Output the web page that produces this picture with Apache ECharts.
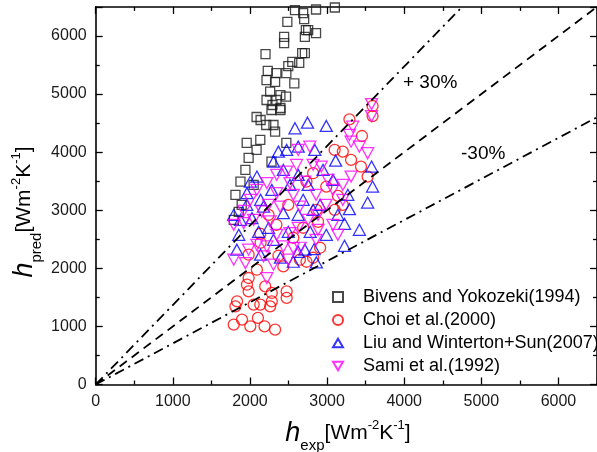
<!DOCTYPE html>
<html>
<head>
<meta charset="utf-8">
<script src="https://cdn.jsdelivr.net/npm/echarts@6/dist/echarts.min.js"></script>
<style>
  html, body { margin: 0; padding: 0; background: #ffffff; }
  #chart { width: 597px; height: 452px; }
</style>
</head>
<body>
<div id="chart"></div>
<script>
// Axis range shared by both axes (W m-2 K-1)
const axisMin = 0;
const axisMax = 6500;
const axisStep = 1000;

// Series names shown in the legend
const seriesNames = [
  'Bivens and Yokozeki(1994)',
  'Choi et al.(2000)',
  'Liu and Winterton+Sun(2007)',
  'Sami et al.(1992)'
];

// [h_exp, h_pred] pairs for each correlation
const bivens = [
  [2584,6443],[2690,6392],[2485,6242],[2703,6289],[2725,6100],[2712,5985],[2443,5985],[2443,5876],
  [2677,5704],[2202,5687],[2549,5555],[2639,5538],[2497,5481],[2231,5400],[2343,5361],[2472,5361],
  [2215,5241],[2326,5211],[2575,5184],[2262,5040],[2395,4983],[2468,4954],[2215,4897],[2343,4897],
  [2292,4811],[2395,4760],[2857,6455],[3101,6490],[2755,6100],[2857,6048],[2086,4605],[2138,4553],
  [2211,4467],[2305,4467],[2326,4352],[2134,4210],[1958,4158],[2086,4038],[1983,3900],[2472,4158],
  [2279,3837],[1941,3694],[1877,3493],[1812,3265],[1791,2835],[2279,4725],[2395,4725],[2048,3436],
  [1893,3093],[1855,2973],[2712,5704]
];
const choi = [
  [2134,2595],[1983,1833],[1961,1718],[1983,1603],[2198,1689],[2283,1576],[2476,1603],[2476,1490],
  [1833,1431],[1812,1345],[2048,1375],[2134,1375],[2283,1431],[2262,1345],[1897,1117],[1790,1031],
  [2005,1002],[2103,1146],[2189,1002],[2326,945],[2090,1976],[2433,2033],[2648,2148],[3290,4565],
  [3452,4278],[3590,4794],[3590,4620],[3098,4038],[3204,4009],[3311,3866],[3440,3751],[3526,3579],
  [2990,3407],[3098,3007],[2819,3637],[2861,3007],[2733,3493],[2138,2440],[2343,2749],[2562,2526],
  [2690,2698],[2883,2801],[3140,3247],[2497,3093],[1983,2234],[2369,2216],[2910,2354],[2819,2182],
  [3204,3093],[2241,2921],[2733,2113]
];
const liu = [
  [2746,4507],[2990,4450],[2841,4038],[3111,3854],[3577,3751],[3590,3407],[3526,3132],[3290,3019],
  [3226,2766],[3419,2663],[2990,2577],[3226,2388],[2832,2332],[2712,2320],[2861,2101],[2584,4411],
  [2476,4038],[2626,4095],[2369,4009],[2305,3837],[2090,3579],[2005,3493],[1961,3294],[1877,2835],
  [2026,2864],[2176,3064],[2433,2950],[2283,3350],[2519,3436],[1855,2577],[1830,2320],[2112,2629],
  [2305,2491],[2497,2629],[2626,2285],[2781,2629],[2138,2234],[2395,2182],[2562,2113],[2690,3179],
  [2910,3093],[3076,3522],[2755,3436],[2948,3694],[2626,3608],[2433,3694],[2138,3179],[1958,3093],
  [2241,2698],[3140,2921],[3269,3265],[2626,2921],[2819,3007],[1790,2921]
];
const sami = [
  [3577,4828],[3577,4622],[3333,4438],[3290,4296],[3311,4180],[3419,4094],[3526,3981],[2776,4094],
  [2925,3751],[3311,3579],[3076,3351],[3204,3179],[2712,3493],[2604,3780],[2476,3665],[2347,3608],
  [2519,3466],[2219,3466],[2090,3351],[2347,3294],[2562,3265],[2005,3179],[2240,3093],[2391,3064],
  [1919,2990],[2154,2978],[2648,3064],[2048,2835],[2262,2806],[1790,2749],[1919,2778],[2347,2577],
  [2519,2606],[2090,2405],[2219,2376],[2433,2376],[1790,2148],[1941,2091],[2176,2204],[2219,1833],
  [2562,2349],[2857,3265],[3011,3522],[2883,2921],[3076,2749],[2755,2835],[2626,2698],[2857,2491],
  [3140,2577],[2497,2148],[2305,2062],[1983,2320],[2652,2354],[2883,2663],[2986,3093],[3204,3436],
  [2819,3780],[2626,4038]
];

// Reference lines through the origin: perfect agreement and the +/-30% band
const unityLine = [[0, 0], [6500, 6500]];
const plus30Line = [[0, 0], [4750, 6500]];
const minus30Line = [[0, 0], [6500, 4600]];

// Band labels
const plusLabel = '+ 30%';
const minusLabel = '-30%';

const FONT = '"Liberation Sans", Arial, Helvetica, sans-serif';
const TRI_UP = 'path://M5,0L10,8.66L0,8.66Z';
const TRI_DOWN = 'path://M0,0L10,0L5,8.66Z';

const chart = echarts.init(document.getElementById('chart'), null, { renderer: 'canvas' });

function valueAxis(extra) {
  return Object.assign({
    type: 'value',
    min: axisMin,
    max: axisMax,
    interval: axisStep,
    splitLine: { show: false },
    axisLine: { show: true, onZero: false, lineStyle: { color: '#000', width: 1.6 } },
    axisTick: { show: true, inside: true, length: 7, lineStyle: { color: '#000', width: 1.3 } },
    minorTick: { show: true, splitNumber: 2, length: 4, lineStyle: { color: '#000', width: 1.3 } },
    axisLabel: {
      show: true, margin: 9, color: '#1a1a1a', fontSize: 16, fontFamily: FONT,
      showMaxLabel: false,
      formatter: (v) => String(v)
    }
  }, extra);
}

function hollow(color) {
  return { color: 'rgba(0,0,0,0)', borderColor: color, borderWidth: 1.3 };
}

const titleRich = {
  h: { fontFamily: FONT, fontStyle: 'italic', fontSize: 27, lineHeight: 40, verticalAlign: 'middle', color: '#000' },
  s: { fontFamily: FONT, fontSize: 15, lineHeight: 15, verticalAlign: 'bottom', color: '#000' },
  n: { fontFamily: FONT, fontSize: 21, lineHeight: 40, verticalAlign: 'middle', color: '#000' },
  p: { fontFamily: FONT, fontSize: 13, lineHeight: 13, verticalAlign: 'top', color: '#000', padding: [6, 0, 0, 0] }
};

chart.setOption({
  animation: false,
  backgroundColor: '#ffffff',
  grid: { left: 95.7, right: -4.3, top: 6.9, bottom: 67.5, containLabel: false },
  xAxis: [
    valueAxis({ position: 'bottom' }),
    valueAxis({ position: 'top', axisLabel: { show: false } })
  ],
  yAxis: [
    valueAxis({ position: 'left' }),
    valueAxis({ position: 'right', axisLabel: { show: false } })
  ],
  legend: {
    orient: 'vertical',
    left: 332,
    top: 288,
    itemWidth: 10,
    itemHeight: 10,
    itemGap: 5,
    padding: 0,
    data: seriesNames,
    textStyle: { fontFamily: FONT, fontSize: 18, lineHeight: 18, color: '#000', padding: [0, 0, 0, 15] }
  },
  graphic: [
    {
      type: 'text', x: 348, y: 433, z: 100,
      style: {
        text: '{h|h}{s|exp}{n|[Wm}{p|-2}{n|K}{p|-1}{n|]}',
        rich: titleRich, align: 'center', verticalAlign: 'middle',
        textAlign: 'center', textVerticalAlign: 'middle'
      }
    },
    {
      type: 'text', x: 24, y: 212, rotation: Math.PI / 2, z: 100,
      style: {
        text: '{h|h}{s|pred}{n|[Wm}{p|-2}{n|K}{p|-1}{n|]}',
        rich: titleRich, align: 'center', verticalAlign: 'middle',
        textAlign: 'center', textVerticalAlign: 'middle'
      }
    },
    {
      type: 'text', x: 403, y: 83, z: 100,
      style: {
        text: plusLabel, font: '19px ' + FONT, fill: '#000',
        align: 'left', verticalAlign: 'middle', textAlign: 'left', textVerticalAlign: 'middle'
      }
    },
    {
      type: 'text', x: 461, y: 154, z: 100,
      style: {
        text: minusLabel, font: '19px ' + FONT, fill: '#000',
        align: 'left', verticalAlign: 'middle', textAlign: 'left', textVerticalAlign: 'middle'
      }
    }
  ],
  series: [
    {
      name: seriesNames[0], type: 'scatter', data: bivens,
      symbol: 'rect', symbolSize: 9, itemStyle: hollow('#1a1a1a'), z: 2
    },
    {
      name: seriesNames[1], type: 'scatter', data: choi,
      symbol: 'circle', symbolSize: 11, itemStyle: hollow('#ff0000'), z: 2
    },
    {
      name: seriesNames[2], type: 'scatter', data: liu,
      symbol: TRI_UP, symbolSize: [12, 11], itemStyle: hollow('#0000ff'), z: 2
    },
    {
      name: seriesNames[3], type: 'scatter', data: sami,
      symbol: TRI_DOWN, symbolSize: [12, 11], itemStyle: hollow('#ff00ff'), z: 2
    },
    {
      name: 'unity', type: 'line', data: unityLine, symbol: 'none', z: 5,
      lineStyle: { color: '#000', width: 1.8, type: [9, 6] }
    },
    {
      name: 'plus30', type: 'line', data: plus30Line, symbol: 'none', z: 5,
      lineStyle: { color: '#000', width: 1.8, type: [10, 5, 2, 5] }
    },
    {
      name: 'minus30', type: 'line', data: minus30Line, symbol: 'none', z: 5,
      lineStyle: { color: '#000', width: 1.8, type: [10, 5, 2, 5] }
    }
  ]
});
</script>
</body>
</html>
